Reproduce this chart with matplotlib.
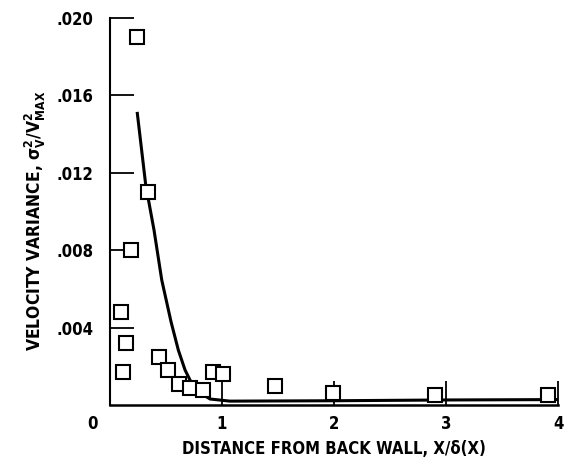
import matplotlib
matplotlib.use("Agg")
import matplotlib.pyplot as plt
import matplotlib.transforms as mtransforms

plt.rcParams['font.family'] = ['DejaVu Sans']
plt.rcParams['font.stretch'] = 'condensed'
plt.rcParams['font.weight'] = 'bold'
plt.rcParams['axes.labelweight'] = 'bold'
plt.rcParams['mathtext.fontset'] = 'dejavusans'
plt.rcParams['mathtext.default'] = 'bf'

# Measured velocity variance (open squares)
dist_x = [0.24, 0.34, 0.19, 0.10, 0.14, 0.12, 0.44, 0.52, 0.62, 0.71,
          0.83, 0.92, 1.01, 1.47, 1.99, 2.90, 3.91]
variance_y = [0.0190, 0.0110, 0.0080, 0.0048, 0.0032, 0.0017, 0.0025, 0.0018,
              0.0011, 0.0009, 0.0008, 0.0017, 0.0016, 0.0010, 0.0006, 0.0005,
              0.0005]

# Faired curve
curve_x = [0.244, 0.319, 0.393, 0.462, 0.545, 0.610, 0.670, 0.729,
           0.788, 0.893, 1.07, 2.0, 3.0, 4.0]
curve_y = [0.01507, 0.01137, 0.00904, 0.00646, 0.00430, 0.00284,
           0.00181, 0.00112, 0.00069, 0.00031, 0.00020, 0.00022, 0.00026,
           0.00028]

xticks = [0, 1, 2, 3, 4]
xticklabels = ['0', '1', '2', '3', '4']
yticks = [0.004, 0.008, 0.012, 0.016, 0.020]
yticklabels = ['.004', '.008', '.012', '.016', '.020']

fig = plt.figure(figsize=(5.66, 4.67), dpi=100)
ax = fig.add_axes([110/566, 1 - 405/467, 448/566, 387/467])

ax.plot(curve_x, curve_y, color='black', lw=2.2, zorder=2,
        solid_joinstyle='round')
ax.plot(dist_x, variance_y, linestyle='none', marker='s', markersize=10,
        markerfacecolor='white', markeredgecolor='black', markeredgewidth=1.5,
        zorder=3)

ax.set_xlim(0, 4)
ax.set_ylim(0, 0.020)
ax.spines['top'].set_visible(False)
ax.spines['right'].set_visible(False)
ax.spines['left'].set_linewidth(1.5)
ax.spines['bottom'].set_linewidth(1.8)

ax.set_xticks(xticks)
ax.set_xticklabels(xticklabels)
ax.set_yticks(yticks)
ax.set_yticklabels(yticklabels)
ax.tick_params(direction='in', length=17, width=1.3, labelsize=12, pad=7)
ax.tick_params(axis='y', pad=12)

# the zero label sits left of the corner
lbl0 = ax.get_xticklabels()[0]
lbl0.set_transform(lbl0.get_transform() +
                   mtransforms.ScaledTranslation(-0.17, 0, fig.dpi_scale_trans))
ax.xaxis.get_major_ticks()[0].tick1line.set_visible(False)

ax.set_xlabel('DISTANCE FROM BACK WALL, X/\u03b4(X)', fontsize=12, labelpad=5)
ax.set_ylabel(r'VELOCITY VARIANCE, $\sigma_V^2/V_{MAX}^2$', fontsize=12.5)
ax.yaxis.set_label_coords(-0.139, 0.475)

fig.savefig('out.png', dpi=100)
